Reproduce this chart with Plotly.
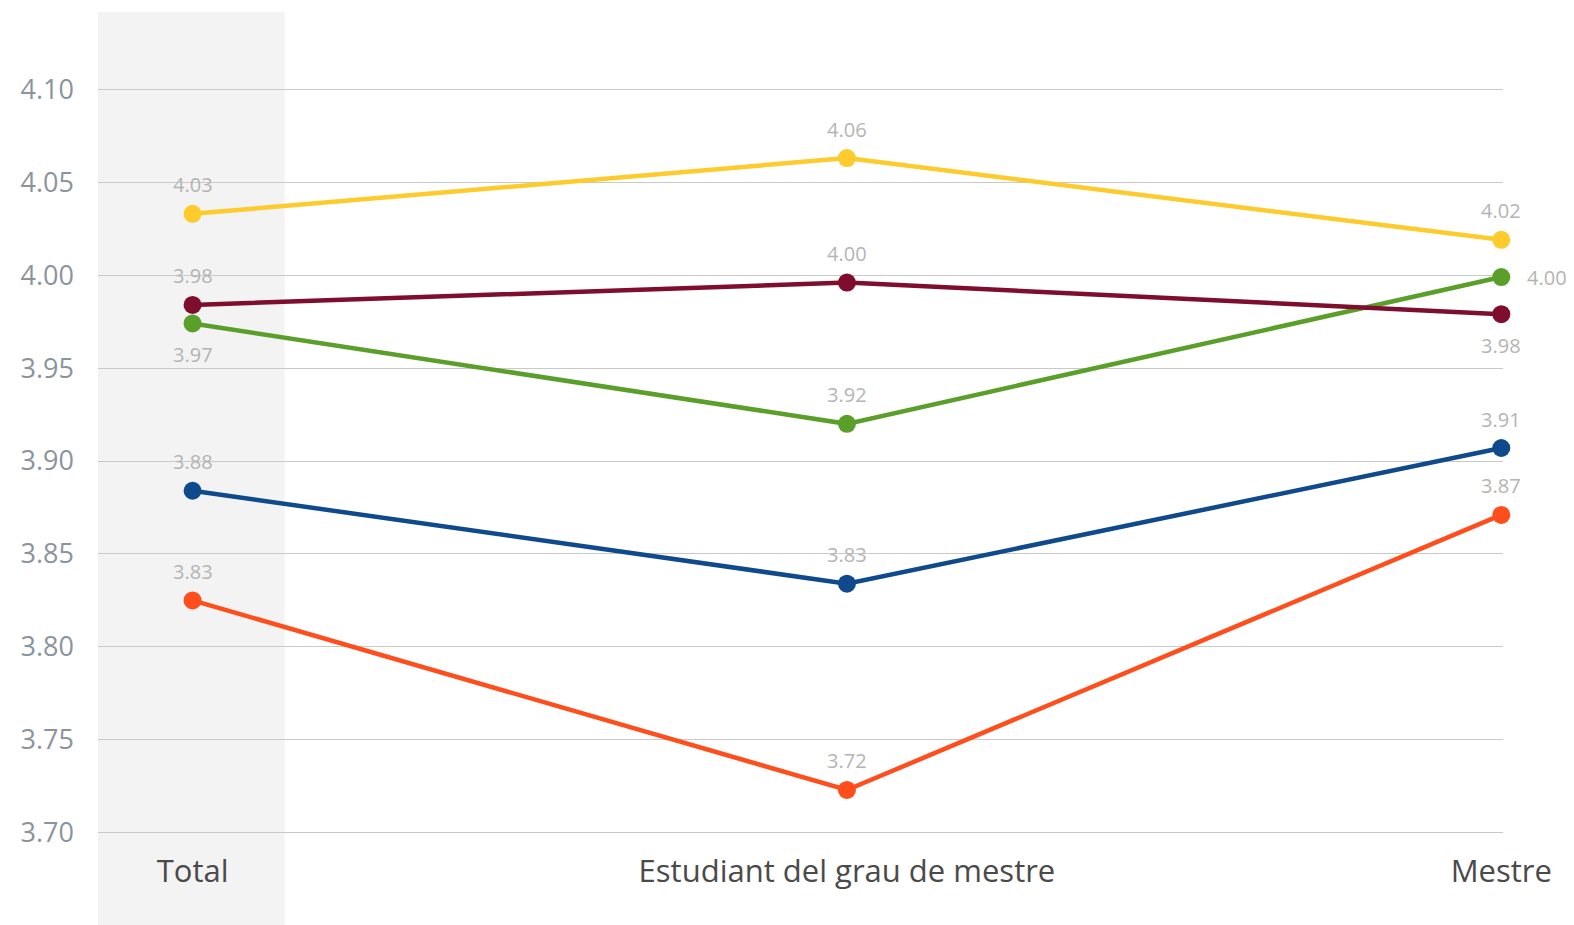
import plotly.graph_objects as go

categories = ["Total", "Estudiant del grau de mestre", "Mestre"]
cat_pos = [0, 1, 2]

series_names = ["Sèrie 1", "Sèrie 2", "Sèrie 3", "Sèrie 4", "Sèrie 5"]
orange = [3.825, 3.723, 3.871]
blue = [3.884, 3.834, 3.907]
green = [3.974, 3.920, 3.999]
maroon = [3.984, 3.996, 3.979]
yellow = [4.033, 4.063, 4.019]

colors = ["#FF4D1C", "#0E4A8C", "#5B9F2B", "#7E0D2E", "#FDCB2C"]
values = [orange, blue, green, maroon, yellow]

# label placement per series per point: "above", "below", "right"
label_pos = [
    ["above", "above", "above"],
    ["above", "above", "above"],
    ["below", "above", "right"],
    ["above", "above", "below"],
    ["above", "above", "above"],
]

y_ticks = [3.70, 3.75, 3.80, 3.85, 3.90, 3.95, 4.00, 4.05, 4.10]

fig = go.Figure()

for name, vals, col in zip(series_names, values, colors):
    fig.add_trace(go.Scatter(
        x=cat_pos, y=vals, mode="lines+markers", name=name,
        line=dict(color=col, width=4.5),
        marker=dict(color=col, size=18),
        cliponaxis=False, showlegend=False, hoverinfo="x+y",
    ))

annotations = []
for vals, poss in zip(values, label_pos):
    for xi, v, p in zip(cat_pos, vals, poss):
        a = dict(x=xi, y=v, xref="x", yref="y", text=f"{v:.2f}", showarrow=False,
                 font=dict(family="Open Sans", size=20, color="#b4b4b4"))
        if p == "above":
            a.update(yshift=29)
        elif p == "below":
            a.update(yshift=-31)
        else:
            a.update(xshift=24, xanchor="left")
        annotations.append(a)

fig.add_shape(type="rect", xref="x", yref="paper", x0=-0.1445, x1=0.1405, y0=-0.2, y1=1,
              fillcolor="#f3f3f3", line=dict(width=0), layer="below")

fig.update_layout(
    width=1566, height=917,
    margin=dict(l=90, r=71, t=4, b=83.4),
    paper_bgcolor="white", plot_bgcolor="white",
    annotations=annotations,
    xaxis=dict(
        range=[-0.1445, 2.0026], tickvals=cat_pos, ticktext=categories,
        showgrid=False, zeroline=False, showline=False, ticks="",
        tickfont=dict(family="Open Sans", size=31, color="#4a4a4a"),
        ticklabelstandoff=8,
    ),
    yaxis=dict(
        range=[3.695, 4.1416], tickvals=y_ticks, ticktext=[f"{t:.2f}" for t in y_ticks],
        showgrid=True, gridcolor="#c9c9c9", gridwidth=1, zeroline=False, showline=False,
        ticks="", tickfont=dict(family="Open Sans", size=27, color="#8b949c"),
        ticklabelstandoff=23,
    ),
)

fig.write_html("out.html")
